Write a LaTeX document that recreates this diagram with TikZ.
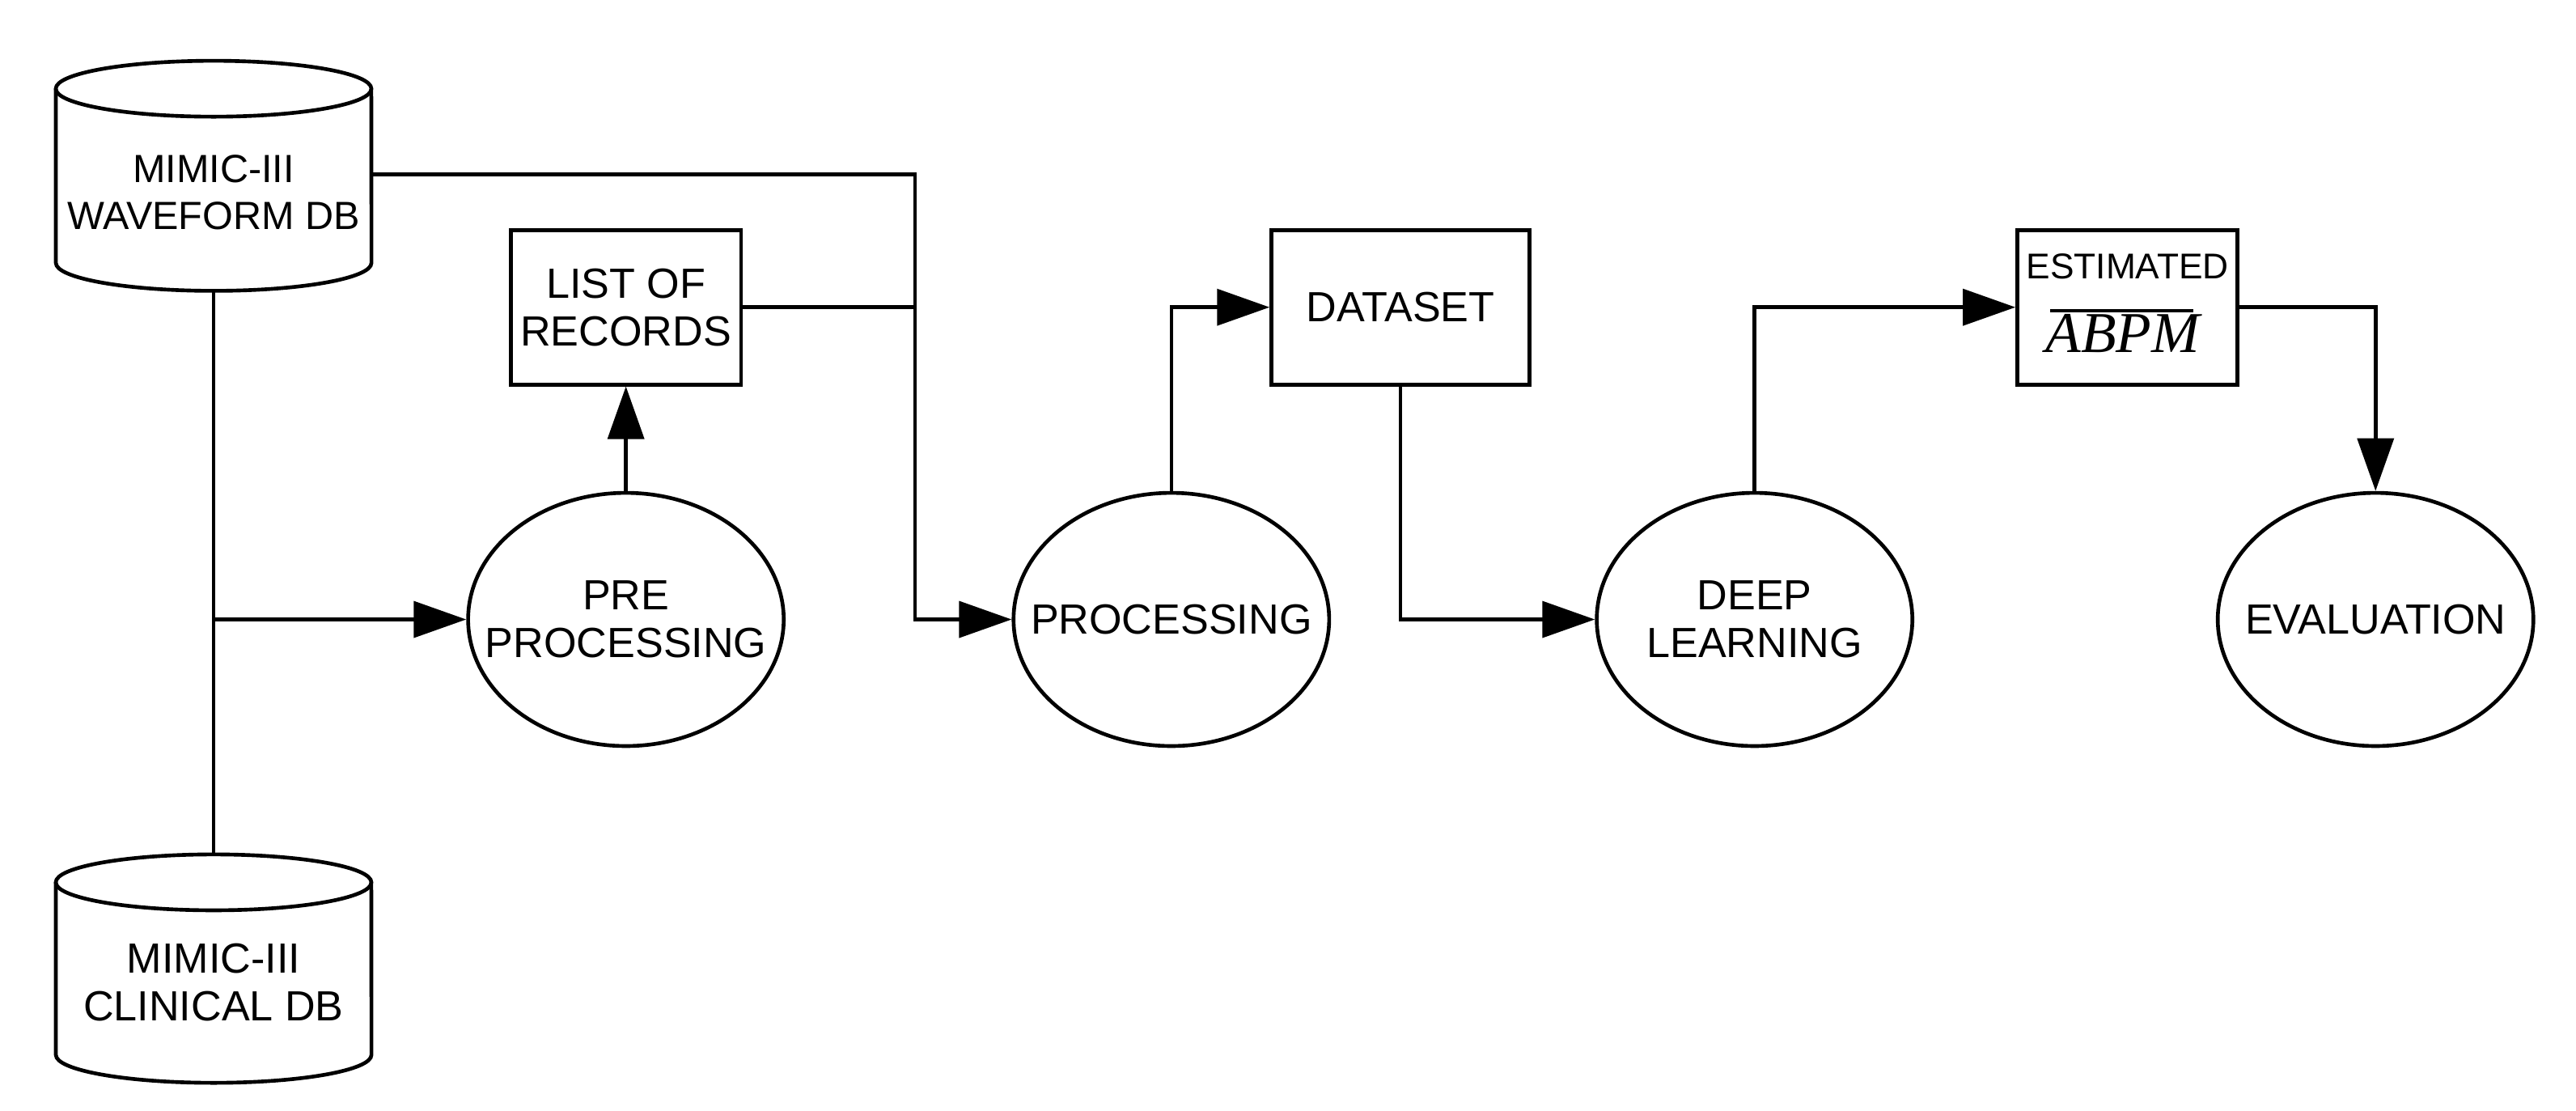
\documentclass[tikz,border=0pt]{standalone}
\usepackage{fontspec}
\setmainfont{Liberation Sans}
\newfontfamily\seriff{Liberation Serif}
\usetikzlibrary{shapes.geometric,arrows.meta}
\begin{document}
\begin{tikzpicture}[x=0.01cm,y=-0.01cm,line width=0.65pt,
  txt/.style={font=\fontsize{7.3}{8.3}\selectfont,align=center},
  ell/.style={draw,ellipse,minimum width=1.92cm,minimum height=1.54cm,inner sep=0},
  box/.style={draw,rectangle,minimum height=0.94cm,inner sep=0,txt},
  arr/.style={-{Triangle[length=0.32cm,width=0.22cm]}}]
\useasboundingbox (0,0) rectangle (1568,676);
% cylinders
\draw (34,54) -- (34,160) arc[start angle=180,end angle=360,x radius=0.96cm,y radius=0.17cm] -- (226,54);
\draw (130,54) ellipse[x radius=0.96cm,y radius=0.17cm];
\node[txt,font=\fontsize{6.8}{8.1}\selectfont] (wave) at (130,117) {MIMIC-III\\WAVEFORM DB};
\coordinate (wb) at (130,177);
\coordinate (wr) at (226,106);
\draw (34,537) -- (34,642) arc[start angle=180,end angle=360,x radius=0.96cm,y radius=0.17cm] -- (226,537);
\draw (130,537) ellipse[x radius=0.96cm,y radius=0.17cm];
\node[txt] (clin) at (130,598) {MIMIC-III\\CLINICAL DB};
\coordinate (ct) at (130,520);
% nodes
\node[box,minimum width=1.40cm] (list) at (381,187) {LIST OF\\RECORDS};
\node[ell] (pre) at (381,377) {};
\node[txt] (pret) at (381,377) {PRE\\PROCESSING};
\node[ell] (proc) at (713,377) {};
\node[txt] (proct) at (713,377) {PROCESSING};
\node[box,minimum width=1.57cm] (data) at (852.5,187) {DATASET};
\node[ell] (deep) at (1068,377) {};
\node[txt] (deept) at (1068,377) {DEEP\\LEARNING};
\node[box,minimum width=1.34cm] (est) at (1295,187) {};
\node[font=\fontsize{6.2}{7}\selectfont] (estt) at (1295,162) {ESTIMATED};
\node[font=\seriff\itshape\fontsize{10}{11}\selectfont,inner sep=0] (abpm) at (1292,203) {ABPM};
\draw[line width=0.5pt] (1248,189) -- (1335,189);
\node[ell] (eval) at (1446,377) {};
\node[txt] (evalt) at (1446,377) {EVALUATION};
% connectors
\coordinate (j) at (130,377);
\draw (wb) -- (ct);
\draw[arr] (j) -- (pre.west);
\draw[arr] (pre.north) -- (list.south);
\draw[arr] (wr) -- (557,106) -- (557,377) -- (proc.west);
\draw (list.east) -- (557,187);
\draw[arr] (proc.north) |- (data.west);
\draw[arr] (data.south) |- (deep.west);
\draw[arr] (deep.north) |- (est.west);
\draw[arr] (est.east) -| (eval.north);
\end{tikzpicture}
\end{document}
